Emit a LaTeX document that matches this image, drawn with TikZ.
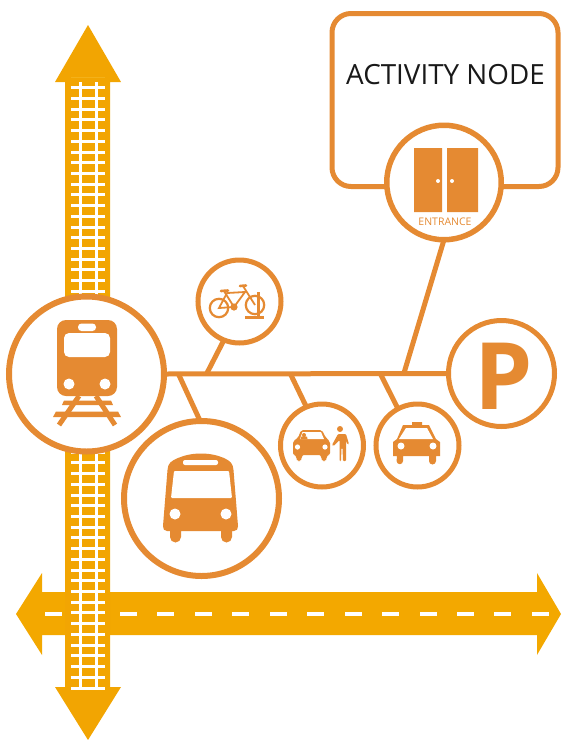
\documentclass[tikz,border=0pt]{standalone}
\usepackage{fontspec}
\setmainfont{Open Sans}
\definecolor{org}{HTML}{E58A32}
\definecolor{amb}{HTML}{F3A800}
\definecolor{ambd}{HTML}{F2A502}
\tikzset{
 stop/.style n args={1}{circle,draw=org,fill=white,inner sep=0pt,outer sep=0pt,line width=#1},
 link/.style={draw=org,line width=5pt},
 icon/.style={fill=org,draw=none},
 hole/.style={fill=white,draw=none},
}
\begin{document}
\begin{tikzpicture}[x=1pt,y=-1pt]
\useasboundingbox (0,0) rectangle (561,740);
% road
\fill[amb] (16,614) -- (42,573) -- (42,592) -- (537,592) -- (537,573) -- (561,614) -- (537,655) -- (537,635) -- (42,635) -- (42,655) -- cycle;
\foreach \i in {0,...,13}{\fill[white] ({45+37.45*\i},612) rectangle ++(17,4);}
% rail
\fill[ambd] (88,25) -- (121,82) -- (110,82) -- (110,687) -- (121,687) -- (88,740) -- (55,687) -- (65,687) -- (65,82) -- (55,82) -- cycle;
\fill[amb!90!white] (71,76.5) rectangle (105,78);
\fill[white] (79,82) rectangle (82,688);
\fill[white] (94.5,82) rectangle (97.5,688);
\foreach \i in {0,...,56}{\fill[white] (71,{86.2+10.72*\i}) rectangle (105,{89.2+10.72*\i});}
% activity node
\node[draw=org,fill=white,line width=5pt,rounded corners=19pt,minimum width=226pt,minimum height=173pt,inner sep=0pt,outer sep=0pt] (activity) at (445,100) {};
\node[text=black!90,font=\fontsize{27.8}{30}\selectfont,inner sep=0pt] (title) at (445.5,75) {ACTIVITY NODE};
% stops
\coordinate (jbike) at (207,373);
\coordinate (jbus) at (178,373);
\coordinate (jcar) at (290,373);
\coordinate (jtaxi) at (380,373);
\coordinate (jdoor) at (404,373);
\node[stop=6pt,minimum size=155pt] (train) at (86.5,374) {};
\node[stop=5pt,minimum size=83pt] (bike) at (239.5,301.5) {};
\node[stop=6pt,minimum size=155pt] (bus) at (201.5,498.5) {};
\node[stop=5pt,minimum size=83pt] (car) at (322,445.5) {};
\node[stop=5pt,minimum size=83pt] (taxi) at (417.5,445.5) {};
\node[stop=5.5pt,minimum size=114.5pt] (door) at (444,182.5) {};
\node[stop=5pt,minimum size=106pt] (park) at (501.5,373.5) {};
\node[text=org,font=\bfseries\fontsize{93}{93}\selectfont,inner sep=0pt] (pletter) at (504,376) {P};
% connectors
\draw[link] (train.0) -- (park.180);
\draw[link] (jbike) -- (bike.248);
\draw[link] (jbus) -- (bus.91);
\draw[link] (jcar) -- (car.112);
\draw[link] (jtaxi) -- (taxi.118);
\draw[link] (jdoor) -- (door.270);
% train icon
\fill[icon] (57,329) arc[start angle=180,end angle=270,radius=9] -- (108,320) arc[start angle=270,end angle=360,radius=9] -- (117,387) arc[start angle=0,end angle=90,radius=9] -- (66,396) arc[start angle=90,end angle=180,radius=9] -- cycle;
\fill[hole,rounded corners=5pt] (64,333) rectangle (110,357);
\fill[hole,rounded corners=3.5pt] (78,323.5) rectangle (96,331);
\fill[hole] (69,384) circle (5.5) (105,384) circle (5.5);
\fill[icon] (64,400.5) -- (111,400.5) -- (113,405) -- (62,405) -- cycle;
\fill[icon] (56,411.5) -- (118,411.5) -- (121,417) -- (53,417) -- cycle;
\draw[org,line width=5pt] (79,396) -- (59,425);
\draw[org,line width=5pt] (96,396) -- (115,425);
% bike icon
\begin{scope}[org]
\draw[line width=2.2pt] (219,308) circle (9.2);
\draw[line width=2.2pt] (255,305) circle (9.2);
\draw[line width=1.8pt] (219,308) -- (227,293) -- (245,292) -- (234,307) -- cycle;
\draw[line width=1.8pt] (224,291) -- (234,307) (243,286) -- (255,305);
\fill (234,307) circle (3.6);
\draw[line width=2.6pt,line cap=round] (221,291) -- (228,290.5);
\draw[line width=2.6pt,line cap=round] (240,286) -- (246,285.5);
\draw[line width=2.8pt] (258.5,292) -- (258.5,317);
\fill (245,315.5) rectangle (264,318.5);
\end{scope}
% bus icon
\fill[icon] (163,526) -- (167.5,470) .. controls (168,463) and (171,461) .. (178,458) .. controls (192,452) and (210,452) .. (224,458) .. controls (230,461) and (233,463) .. (233.5,470) -- (238,526) .. controls (238,529) and (237,531) .. (234,531) -- (232,531) -- (232,537) arc[start angle=0,end angle=180,radius=5.5,y=1pt] -- (221,531) -- (181,531) -- (181,537) arc[start angle=0,end angle=180,radius=5.5,y=1pt] -- (170,531) -- (167,531) .. controls (164,531) and (163,529) .. (163,526) -- cycle;
\fill[hole,rounded corners=1pt] (174,471) -- (229,471) -- (232,498) -- (171,498) -- cycle;
\fill[hole,rounded corners=2pt] (183,460) rectangle (218,465);
\fill[hole] (175,514) circle (5.5) (226,514) circle (5.5);
% car + person icon
\fill[icon,rounded corners=2pt] (293,455) -- (293,441) -- (298,438) -- (301,430) -- (322,430) -- (326,438) -- (330,441) -- (330,455) -- (327,455) -- (327,459) -- (325,461) -- (323,461) -- (321,459) -- (321,455) -- (302,455) -- (302,459) -- (300,461) -- (298,461) -- (296,459) -- (296,455) -- cycle;
\fill[hole] (302.5,432) -- (321,432) -- (324,439) -- (300,439) -- cycle;
\fill[icon] (304,435) circle (2) (300.5,439) -- (307.5,439) -- (307,436.5) -- (301,436.5) -- cycle;
\fill[hole] (297.5,447) circle (2.6) (325,447) circle (2.6);
\fill[icon] (340,429) circle (3);
\fill[icon,rounded corners=1pt] (332,445) -- (338,434) -- (346,434) -- (349,444) -- (347.5,444.5) -- (346,440) -- (346,461) -- (343,461) -- (342.5,448) -- (341.5,448) -- (341,461) -- (339.5,461) -- (339.5,440) -- (333.5,446) -- cycle;
% taxi icon
\fill[icon] (412,422) -- (422,422) -- (422,425) -- (429,425) -- (436,439) -- (440,442) -- (440,456) -- (436,456) -- (436,461) arc[start angle=0,end angle=180,radius=3.5,y=1pt] -- (429,456) -- (403,456) -- (403,461) arc[start angle=0,end angle=180,radius=3.2,y=1pt] -- (397,456) -- (393,456) -- (393,442) -- (397,439) -- (403,425) -- (412,425) -- cycle;
\fill[hole] (406,428) -- (427,428) -- (433,439) -- (399,439) -- cycle;
\fill[hole] (401,446) circle (3.5) (433,446) circle (3.5);
% door icon
\fill[icon] (414,148) rectangle (442,212) (447,148) rectangle (478,212);
\fill[hole] (438,181) circle (2) (452,181) circle (2);
\node[text=org,font=\fontsize{10.5}{11}\selectfont,inner sep=0pt] (entrance) at (445,222) {ENTRANCE};
\end{tikzpicture}
\end{document}
